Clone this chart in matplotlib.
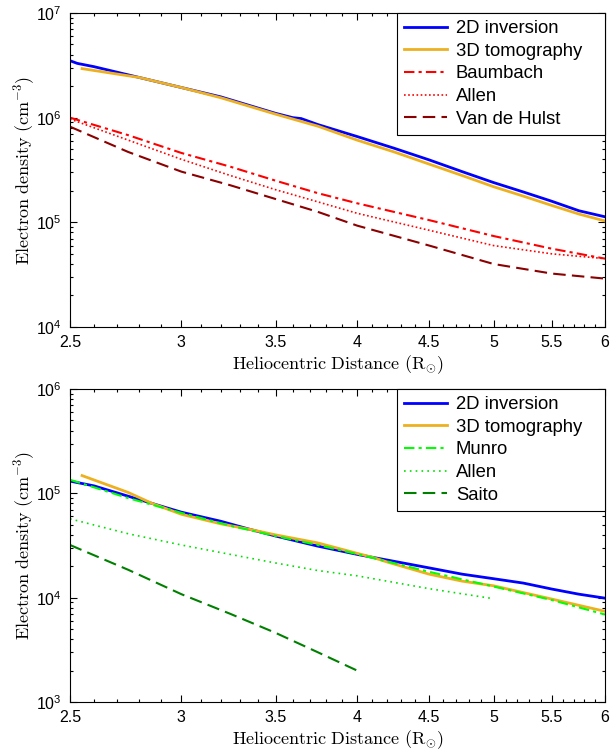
import matplotlib
matplotlib.use('Agg')
import matplotlib.pyplot as plt
import matplotlib.ticker as mticker
import numpy as np

plt.rcParams['font.family'] = ['Liberation Sans', 'DejaVu Sans']
plt.rcParams['mathtext.fontset'] = 'custom'
plt.rcParams['mathtext.rm'] = 'Liberation Sans'
plt.rcParams['mathtext.it'] = 'Liberation Sans:italic'

# ---- top panel (streamer) ----
r_inv_top = [2.5, 2.53, 2.6, 2.8, 3.0, 3.2, 3.5, 3.6, 3.65, 3.75, 4.0, 4.25, 4.5, 4.75, 5.0, 5.25, 5.5, 5.75, 6.0]
n_inv_top = [3.5e6, 3.3e6, 3.07e6, 2.42e6, 1.94e6, 1.58e6, 1.1e6, 1.0e6, 9.8e5, 8.6e5, 6.6e5, 5.1e5, 3.95e5, 3.05e5, 2.4e5, 1.95e5, 1.59e5, 1.29e5, 1.13e5]
r_tomo_top = [2.55, 2.8, 3.0, 3.2, 3.5, 3.75, 4.0, 4.25, 4.5, 4.75, 5.0, 5.25, 5.5, 5.75, 6.0]
n_tomo_top = [2.94e6, 2.42e6, 1.94e6, 1.55e6, 1.08e6, 8.3e5, 6.1e5, 4.7e5, 3.6e5, 2.8e5, 2.19e5, 1.78e5, 1.45e5, 1.2e5, 1.03e5]
r_model_top = [2.5, 2.75, 3.0, 3.25, 3.5, 3.75, 4.0, 4.5, 5.0, 5.5, 6.0]
n_baumbach = [1.0e6, 6.8e5, 4.6e5, 3.4e5, 2.5e5, 1.9e5, 1.52e5, 1.05e5, 7.4e4, 5.6e4, 4.5e4]
n_allen_top = [9.7e5, 6.1e5, 4.0e5, 2.8e5, 2.05e5, 1.57e5, 1.22e5, 8.4e4, 6.0e4, 5.0e4, 4.5e4]
n_hulst = [8.2e5, 4.7e5, 3.05e5, 2.26e5, 1.67e5, 1.26e5, 9.3e4, 6.0e4, 4.0e4, 3.24e4, 2.9e4]

# ---- bottom panel (coronal hole) ----
r_inv_bot = [2.5, 2.6, 2.86, 3.0, 3.2, 3.36, 3.5, 3.75, 4.0, 4.1, 4.25, 4.5, 4.75, 5.0, 5.25, 5.5, 5.75, 6.0]
n_inv_bot = [1.31e5, 1.18e5, 8.0e4, 6.6e4, 5.4e4, 4.5e4, 3.9e4, 3.12e4, 2.6e4, 2.44e4, 2.23e4, 1.93e4, 1.68e4, 1.52e4, 1.38e4, 1.21e4, 1.08e4, 9.9e3]
r_tomo_bot = [2.55, 2.75, 2.86, 3.0, 3.2, 3.36, 3.5, 3.75, 4.0, 4.1, 4.2, 4.5, 4.75, 5.0, 5.5, 6.0]
n_tomo_bot = [1.48e5, 1.02e5, 8.0e4, 6.3e4, 5.1e4, 4.5e4, 4.0e4, 3.35e4, 2.66e4, 2.44e4, 2.2e4, 1.68e4, 1.44e4, 1.3e4, 9.7e3, 7.4e3]
r_munro = [2.5, 2.75, 3.0, 3.25, 3.5, 3.75, 4.0, 4.5, 5.0, 5.5, 6.0]
n_munro = [1.35e5, 9.0e4, 6.5e4, 4.9e4, 3.9e4, 3.2e4, 2.62e4, 1.77e4, 1.28e4, 9.5e3, 6.9e3]
r_allen_bot = [2.5, 2.75, 3.0, 3.25, 3.5, 3.75, 4.0, 4.5, 4.97]
n_allen_bot = [5.7e4, 4.1e4, 3.2e4, 2.6e4, 2.15e4, 1.82e4, 1.62e4, 1.22e4, 9.9e3]
r_saito = [2.5, 2.75, 3.0, 3.25, 3.5, 3.75, 4.0]
n_saito = [3.2e4, 1.85e4, 1.08e4, 7.0e3, 4.6e3, 3.0e3, 2.0e3]

xticks = [2.5, 3, 3.5, 4, 4.5, 5, 5.5, 6]

fig = plt.figure(figsize=(6.16, 7.5), dpi=100)
ax1 = fig.add_axes([0.1136, 0.564, 0.8684, 0.4187])
ax2 = fig.add_axes([0.1136, 0.064, 0.8684, 0.4173])

# trailing spaces widen the legend box like the MATLAB original
ax1.plot(r_inv_top, n_inv_top, color='#0000ff', lw=2, label='2D inversion')
ax1.plot(r_tomo_top, n_tomo_top, color='#edb120', lw=2, label='3D tomography   ')
ax1.plot(r_model_top, n_baumbach, color='#ff0000', lw=1.5, ls=(0, (5, 2, 1.5, 2)), label='Baumbach')
ax1.plot(r_model_top, n_allen_top, color='#ff0000', lw=1.2, ls=(0, (1, 1.5)), label='Allen')
ax1.plot(r_model_top, n_hulst, color='#8b0000', lw=1.5, ls=(0, (6, 3)), label='Van de Hulst')

ax2.plot(r_inv_bot, n_inv_bot, color='#0000ff', lw=2, label='2D inversion')
ax2.plot(r_tomo_bot, n_tomo_bot, color='#edb120', lw=2, label='3D tomography   ')
ax2.plot(r_munro, n_munro, color='#00ff00', lw=1.5, ls=(0, (5, 2, 1.5, 2)), label='Munro')
ax2.plot(r_allen_bot, n_allen_bot, color='#00e000', lw=1.2, ls=(0, (1, 2.5)), label='Allen')
ax2.plot(r_saito, n_saito, color='#008000', lw=1.5, ls=(0, (6, 3)), label='Saito')

for ax, ylim in [(ax1, (1e4, 1e7)), (ax2, (1e3, 1e6))]:
    ax.set_xscale('log')
    ax.set_yscale('log')
    ax.set_xlim(2.5, 6)
    ax.set_ylim(*ylim)
    ax.xaxis.set_major_locator(mticker.FixedLocator(xticks))
    ax.xaxis.set_major_formatter(mticker.FuncFormatter(lambda v, p: '%g' % v))
    ax.xaxis.set_minor_locator(mticker.MultipleLocator(0.1))
    ax.xaxis.set_minor_formatter(mticker.NullFormatter())
    ax.yaxis.set_major_locator(mticker.LogLocator(base=10, numticks=10))
    ax.yaxis.set_major_formatter(mticker.FuncFormatter(lambda v, p: r'$10^{%d}$' % round(np.log10(v))))
    ax.yaxis.set_minor_locator(mticker.LogLocator(base=10, subs=np.arange(2, 10), numticks=10))
    ax.tick_params(which='both', direction='in', top=True, right=True, labelsize=11.5, width=0.8)
    ax.tick_params(which='major', length=5, pad=6)
    ax.tick_params(which='minor', length=2.5)
    for s in ax.spines.values():
        s.set_linewidth(0.8)
    ax.set_xlabel(r'$\mathrm{Heliocentric\ Distance\ (R_{\odot})}$', fontsize=13,
                  math_fontfamily='cm', labelpad=2)
    ax.set_ylabel(r'$\mathrm{Electron\ density\ (cm^{-3})}$', fontsize=13,
                  math_fontfamily='cm', labelpad=-1)
    leg = ax.legend(loc='upper right', borderaxespad=0, fontsize=13.3, handlelength=2.3,
                    handletextpad=0.5, labelspacing=0.3, fancybox=False, framealpha=1,
                    edgecolor='black', borderpad=0.4)
    leg.get_frame().set_linewidth(0.8)

fig.savefig('out.png', dpi=100)
